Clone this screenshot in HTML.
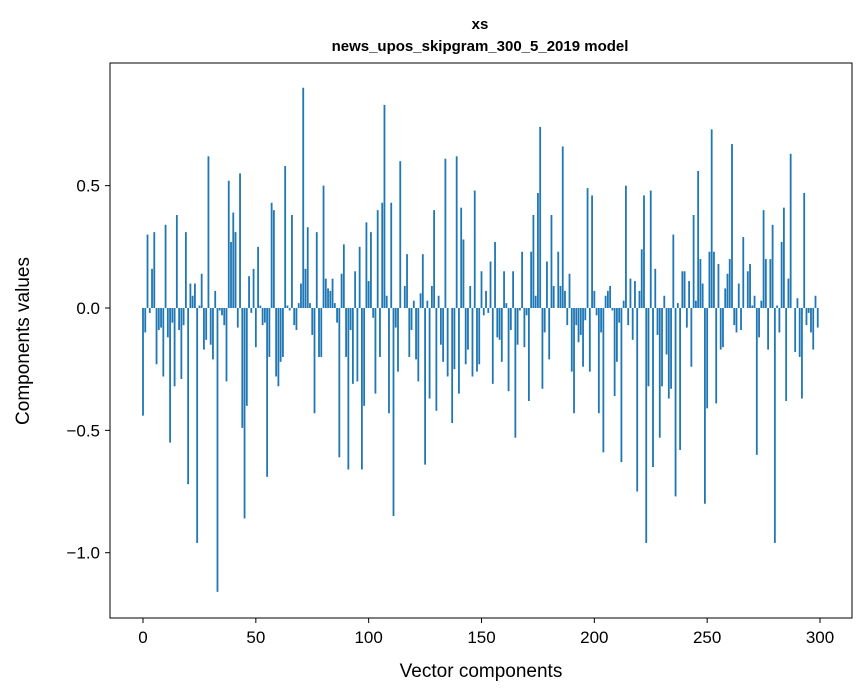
<!DOCTYPE html>
<html><head><meta charset="utf-8"><style>
body{margin:0;background:#fff;}
svg{display:block;font-family:"Liberation Sans","DejaVu Sans",sans-serif;}
</style></head><body>
<svg id="chart" width="867" height="696" xmlns="http://www.w3.org/2000/svg">
<rect width="867" height="696" fill="#fff"/>
<text x="480" y="29" text-anchor="middle" font-size="15" font-weight="bold">xs</text>
<text x="480" y="51" text-anchor="middle" font-size="15" font-weight="bold">news_upos_skipgram_300_5_2019 model</text>
<g id="bars"></g>
<rect x="110" y="63" width="742" height="555" fill="none" stroke="#000" stroke-width="1"/>
<g id="xticks"></g>
<g id="yticks"></g>
<text x="481" y="677" text-anchor="middle" font-size="19">Vector components</text>
<text transform="translate(29,341) rotate(-90)" text-anchor="middle" font-size="19">Components values</text>
</svg>
<script>
const values = [
-0.44,-0.10,0.30,-0.02,0.16,0.31,-0.23,-0.09,-0.08,-0.28,
0.34,-0.12,-0.55,-0.06,-0.32,0.38,-0.09,-0.29,-0.07,0.31,
-0.72,0.10,0.05,0.10,-0.96,0.01,0.14,-0.17,-0.13,0.62,
-0.15,-0.21,0.07,-1.16,-0.01,-0.03,-0.07,-0.30,0.52,0.27,
0.39,0.31,-0.08,0.55,-0.49,-0.86,-0.40,0.13,-0.02,0.16,
-0.16,0.25,0.01,-0.07,-0.06,-0.69,-0.20,0.43,0.40,-0.28,
-0.32,-0.22,-0.20,0.58,0.01,-0.01,0.38,-0.07,-0.09,0.02,
0.10,0.90,0.16,0.33,0.02,-0.11,-0.43,0.31,-0.20,-0.20,
0.50,0.12,0.08,0.07,0.12,0.02,-0.06,-0.61,0.14,0.26,
-0.20,-0.66,-0.09,-0.31,0.15,-0.30,0.25,-0.66,-0.40,0.35,
0.11,0.31,-0.04,-0.35,0.40,-0.20,0.43,0.83,0.05,-0.43,
0.43,-0.85,-0.08,-0.26,0.60,0.00,0.09,0.22,-0.20,-0.09,
0.03,-0.21,-0.30,0.06,0.22,-0.64,0.03,-0.37,0.09,0.40,
-0.42,0.05,-0.15,-0.22,0.61,-0.28,0.00,-0.47,-0.25,0.62,
-0.35,0.41,0.28,-0.23,-0.17,0.09,-0.28,0.48,-0.26,-0.23,
0.15,-0.03,0.07,-0.02,0.19,-0.31,0.27,-0.12,-0.13,-0.22,
0.15,0.02,-0.34,-0.09,0.15,-0.53,-0.15,-0.01,0.23,-0.16,
-0.03,-0.38,0.23,0.38,0.05,0.47,0.74,-0.33,-0.10,0.19,
-0.21,0.38,0.09,0.00,0.23,0.09,0.66,0.07,-0.07,0.14,
-0.26,-0.43,-0.07,-0.14,-0.11,-0.24,-0.05,0.49,-0.26,0.46,
0.07,-0.03,-0.43,-0.10,-0.59,0.05,0.07,0.09,-0.01,-0.36,
-0.22,-0.06,-0.63,0.03,0.50,-0.07,0.12,-0.13,0.11,-0.75,
0.07,0.24,0.46,-0.96,-0.32,0.48,-0.65,0.16,-0.11,-0.53,
-0.32,0.05,-0.19,-0.37,-0.33,0.30,-0.77,0.02,-0.58,0.15,
0.15,-0.08,0.11,-0.24,0.38,0.03,0.56,0.20,0.10,-0.80,
-0.41,0.23,0.73,0.23,-0.39,0.18,-0.17,-0.16,0.08,0.14,
0.20,0.67,-0.07,-0.10,0.10,-0.09,0.29,0.00,0.15,0.18,
0.01,0.05,-0.60,-0.12,0.03,0.40,0.20,-0.17,0.20,0.34,
-0.96,0.01,-0.10,0.27,0.41,-0.38,0.12,0.63,0.00,-0.18,
0.04,-0.20,-0.37,0.47,-0.07,-0.02,-0.10,-0.17,0.05,-0.08
];
const xTickValues = [0,50,100,150,200,250,300];
const yTickValues = [0.5,0.0,-0.5,-1.0];
const yTickLabels = ["0.5","0.0","\u22120.5","\u22121.0"];

const NS="http://www.w3.org/2000/svg";
function xs(v){return 143+(v)*(677/300);}
function ys(v){return 308-v*244.7;}
const bw=0.8*(677/300);
const bars=document.getElementById('bars');
values.forEach((v,i)=>{
  const r=document.createElementNS(NS,'rect');
  const y0=ys(Math.max(v,0)), y1=ys(Math.min(v,0));
  r.setAttribute('x',xs(i)-bw/2);
  r.setAttribute('y',y0);
  r.setAttribute('width',bw);
  r.setAttribute('height',Math.max(y1-y0,0.01));
  r.setAttribute('fill','#1f77b4');
  
  
  bars.appendChild(r);
});
const xt=document.getElementById('xticks');
xTickValues.forEach(t=>{
  const l=document.createElementNS(NS,'line');
  l.setAttribute('x1',xs(t));l.setAttribute('x2',xs(t));
  l.setAttribute('y1',618);l.setAttribute('y2',623);
  l.setAttribute('stroke','#000');
  
  
  xt.appendChild(l);
  const tx=document.createElementNS(NS,'text');
  tx.setAttribute('x',xs(t));tx.setAttribute('y',643);
  tx.setAttribute('text-anchor','middle');tx.setAttribute('font-size','17');
  tx.textContent=String(t);
  
  
  xt.appendChild(tx);
});
const yt=document.getElementById('yticks');
yTickValues.forEach((t,k)=>{
  const l=document.createElementNS(NS,'line');
  l.setAttribute('x1',105);l.setAttribute('x2',110);
  l.setAttribute('y1',ys(t));l.setAttribute('y2',ys(t));
  l.setAttribute('stroke','#000');
  
  
  yt.appendChild(l);
  const tx=document.createElementNS(NS,'text');
  tx.setAttribute('x',100);tx.setAttribute('y',ys(t)+6);
  tx.setAttribute('text-anchor','end');tx.setAttribute('font-size','17');
  tx.textContent=yTickLabels[k];
  
  
  yt.appendChild(tx);
});
</script>
</body></html>
